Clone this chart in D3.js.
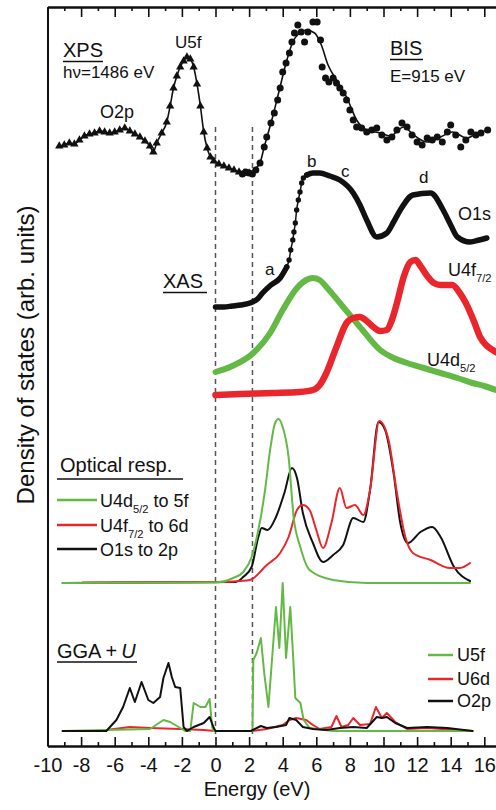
<!DOCTYPE html>
<html>
<head>
<meta charset="utf-8">
<script src="https://cdn.jsdelivr.net/npm/d3@7"></script>
<style>
  body { margin: 0; background: #fff; }
  svg text { font-family: "Liberation Sans", Arial, Helvetica, sans-serif; fill: #111; }
</style>
</head>
<body>
<div id="container"></div>
<script>
/*
    Spectra, all as [energy (eV), density (arb. units)]
    the vertical offsets of the stacked panels are part of the values
*/
var xpsData = [[-9.3,60.0],[-9.0,60.1],[-8.7,60.3],[-8.4,60.2],[-8.1,60.6],[-7.8,61.0],[-7.5,61.2],
    [-7.2,61.3],[-6.9,61.5],[-6.6,61.4],[-6.3,61.3],[-6.0,61.4],[-5.7,61.6],[-5.4,61.8],[-5.1,61.5],
    [-4.8,61.2],[-4.5,60.9],[-4.2,60.5],[-3.9,60.0],[-3.7,59.4],[-3.5,60.3],[-3.2,61.3],[-2.9,62.4],
    [-2.7,64.0],[-2.5,65.8],[-2.3,67.0],[-2.1,67.9],[-1.9,68.5],[-1.7,68.9],[-1.5,68.7],[-1.3,67.9],
    [-1.1,66.2],[-0.9,64.0],[-0.7,61.4],[-0.5,59.8],[-0.3,58.9],[-0.1,58.5],[0.2,58.2],[0.5,58.0],
    [0.8,57.8],[1.1,57.6],[1.4,57.4],[1.7,57.3],[2.0,57.3]];

var bisFit = [[1.6,57.3],[2.0,57.3],[2.4,57.8],[2.65,58.3],[2.9,59.9],[3.4,62.9],[3.8,65.6],[4.2,68.3],
    [4.6,70.4],[5.0,71.3],[5.4,71.6],[5.9,71.3],[6.3,70.1],[6.7,68.1],[7.2,66.6],[7.8,64.9],[8.4,62.6],
    [9.0,61.6],[9.8,61.3],[10.4,61.0],[11.2,61.9],[11.8,61.1],[12.6,60.4],[13.4,60.9],[14.1,61.4],
    [14.95,60.8],[15.6,61.3],[16.2,61.6]];

var bisPoints = [[1.6,57.2],[1.8,57.4],[2.0,57.3],[2.2,57.2],[2.4,57.6],[2.65,58.3],[2.9,59.9],
    [3.05,60.9],[3.3,62.3],[3.5,63.3],[3.7,64.6],[3.85,65.8],[4.0,67.4],[4.2,68.3],[4.4,69.3],
    [4.55,70.4],[4.7,71.3],[4.9,72.1],[5.1,71.4],[5.3,70.4],[5.5,71.4],[5.8,72.4],[6.05,72.4],
    [6.25,70.6],[6.35,67.9],[6.55,66.8],[6.75,66.4],[7.0,66.8],[7.2,66.3],[7.4,65.8],[7.6,65.3],
    [7.8,64.6],[8.0,63.6],[8.2,62.6],[8.4,61.9],[8.7,61.8],[9.0,61.4],[9.3,61.6],[9.6,61.8],
    [9.9,61.1],[10.2,60.6],[10.5,60.9],[10.8,61.6],[11.1,62.3],[11.4,61.9],[11.7,61.1],[12.0,60.4],
    [12.3,60.1],[12.6,60.8],[12.9,60.6],[13.2,60.9],[13.5,60.4],[13.8,61.4],[14.0,62.1],[14.3,61.1],
    [14.6,59.9],[14.9,60.6],[15.2,61.4],[15.5,61.1],[15.8,61.3],[16.2,61.6]];

var xasO1s = [[0,43.9],[0.5,43.9],[1.0,44.0],[1.5,44.1],[2.05,44.3],[2.5,44.7],[2.8,45.3],[3.3,46.1],
    [3.85,46.8],[4.24,47.9],[4.38,48.6],[4.48,49.6],[4.6,50.6],[4.67,51.4],[4.75,52.3],[4.83,53.6],
    [4.93,54.6],[5.03,55.4],[5.13,56.3],[5.23,56.8],[5.43,57.1],[5.8,57.3],[6.2,57.3],[6.8,57.0],
    [7.4,56.6],[8.2,55.3],[8.6,54.1],[9.0,52.6],[9.6,50.9],[10.2,51.3],[10.6,52.4],[11.0,53.6],
    [11.75,55.1],[12.8,55.3],[13.55,53.6],[14.0,52.1],[14.4,50.9],[15.15,50.4],[15.7,50.6],[16.15,50.8]];

var xasU4f = [[0,35.1],[1.5,35.2],[3.4,35.3],[5.0,35.4],[5.8,35.6],[6.2,36.1],[6.6,37.3],[7.2,39.9],
    [7.8,42.3],[8.2,42.8],[8.6,42.9],[9.0,42.5],[9.4,41.9],[9.8,41.5],[10.2,41.6],[10.5,42.6],
    [10.8,44.3],[11.2,46.9],[11.6,48.4],[11.9,48.6],[12.2,48.0],[12.6,47.0],[13.0,46.3],[13.4,46.1],
    [14.1,46.1],[14.5,45.4],[14.9,44.3],[15.4,42.4],[15.75,40.9],[16.1,40.1],[16.5,39.6],[17.0,39.1]];

var xasU4d = [[0,37.4],[1.0,38.0],[2.25,39.3],[3.25,41.3],[4.0,43.6],[4.85,45.8],[5.4,46.6],[5.8,46.8],
    [6.2,46.6],[6.6,45.9],[7.6,43.9],[8.6,41.9],[9.8,39.6],[10.6,38.8],[11.4,38.3],[12.4,37.8],
    [13.4,37.3],[14.4,36.8],[15.3,36.3],[16.0,36.0],[16.7,35.6]];

var optGreen = [[-9.1,16.3],[0,16.35],[1.05,16.8],[1.65,17.4],[2.15,18.9],[2.55,21.6],[2.95,25.6],
    [3.25,29.6],[3.55,32.3],[3.75,32.7],[4.0,31.9],[4.35,28.9],[4.65,22.9],[5.05,19.9],[5.6,17.6],
    [7.0,16.6],[9.0,16.3],[15.15,16.3]];

var optRed = [[-7.9,16.35],[0,16.4],[1.5,16.5],[2.05,16.6],[3.05,18.1],[3.85,19.3],[4.35,20.9],
    [4.85,23.6],[5.2,24.1],[5.6,23.6],[6.0,21.6],[6.4,19.8],[6.9,22.3],[7.4,25.8],[7.8,23.8],
    [8.3,24.1],[8.8,23.1],[9.2,25.6],[9.75,32.5],[10.3,30.6],[10.8,25.3],[11.3,20.9],[11.75,19.3],
    [12.8,18.6],[13.95,17.8],[14.55,17.8],[15.15,18.3]];

var optBlack = [[-9.1,16.3],[1.2,16.4],[1.65,16.9],[2.15,17.9],[2.55,20.9],[2.75,21.8],[3.1,21.6],
    [3.6,22.9],[4.1,25.3],[4.55,27.8],[4.85,26.8],[5.2,23.3],[5.8,20.3],[6.4,18.4],[7.0,19.1],
    [7.6,20.1],[8.2,22.8],[8.8,22.4],[9.2,25.6],[9.7,32.4],[10.1,31.6],[10.6,27.3],[11.0,22.3],
    [11.45,20.3],[12.2,21.4],[12.9,21.9],[13.4,20.9],[14.2,17.9],[15.15,16.5]];

var ggaU5f = [[-9.1,1.5],[-3.9,1.7],[-3.1,2.6],[-2.7,2.4],[-2.1,1.8],[-1.8,1.5],[-1.5,1.5],[-1.3,4.3],
    [-0.9,3.9],[-0.6,3.9],[-0.35,4.7],[-0.2,1.9],[-0.1,1.5],[2.2,1.5],[2.25,8.6],[2.45,9.3],[2.7,10.8],
    [2.9,7.3],[3.15,3.9],[3.6,13.9],[3.8,9.8],[4.0,16.3],[4.2,8.8],[4.45,13.9],[4.6,9.6],[4.75,4.8],
    [5.05,4.3],[5.25,2.6],[5.6,1.8],[7.0,1.5],[15.3,1.5]];

var ggaU6d = [[-6.5,1.6],[-5.1,1.9],[-3.9,1.8],[-2.1,1.7],[-0.7,1.6],[0,1.5],[2.2,1.5],[3.05,1.7],
    [4.0,2.1],[4.4,2.6],[4.8,2.8],[5.4,2.6],[5.8,2.1],[6.2,1.7],[6.9,1.9],[7.2,3.0],[7.5,1.9],
    [7.9,2.1],[8.2,2.8],[8.6,2.1],[9.2,2.2],[9.55,3.9],[9.9,2.8],[10.2,3.3],[10.7,2.4],[11.4,1.7],
    [12.6,1.8],[15.3,1.5]];

var ggaO2p = [[-9.1,1.5],[-6.5,1.5],[-5.9,2.6],[-5.5,3.9],[-5.1,5.8],[-4.8,4.4],[-4.4,6.4],[-4.0,4.6],
    [-3.7,4.3],[-3.3,4.9],[-3.1,6.8],[-2.8,8.3],[-2.6,6.9],[-2.4,5.9],[-2.1,5.8],[-1.9,1.9],[-1.7,1.5],
    [-1.3,1.9],[-0.7,2.3],[-0.35,2.9],[-0.1,1.8],[0,1.5],[2.1,1.5],[2.7,2.0],[3.05,1.8],[3.6,1.9],
    [4.2,2.1],[4.4,2.8],[4.8,2.6],[5.2,1.9],[5.8,1.7],[6.6,1.6],[7.4,1.8],[8.2,1.9],[9.0,1.8],
    [9.6,2.9],[9.9,2.8],[10.2,2.9],[10.7,2.3],[11.4,1.8],[12.6,1.9],[13.8,1.8],[15.3,1.5]];

/* energy of the two dashed guide lines and axis ticks */
var guideEnergies = [0, 2.2];
var majorTicks = [-10, -8, -6, -4, -2, 0, 2, 4, 6, 8, 10, 12, 14, 16];
var minorTicks = [-9, -7, -5, -3, -1, 1, 3, 5, 7, 9, 11, 13, 15];

var GREEN = "#64b946";
var RED = "#e8262b";
var BLACK = "#111111";

var width = 496, height = 810;

var svg = d3.select("#container").append("svg")
    .attr("width", width)
    .attr("height", height);

var x = d3.scaleLinear().domain([-10, 17]).range([47.5, 501.1]);
var y = d3.scaleLinear().domain([0, 73.9]).range([746, 7]);

var smooth = d3.line()
    .x(function (d) { return x(d[0]); })
    .y(function (d) { return y(d[1]); })
    .curve(d3.curveMonotoneX);

var sharp = d3.line()
    .x(function (d) { return x(d[0]); })
    .y(function (d) { return y(d[1]); });

function drawPath(data, gen, color, w) {
    return svg.append("path")
        .datum(data)
        .attr("d", gen)
        .attr("fill", "none")
        .attr("stroke", color)
        .attr("stroke-width", w)
        .attr("stroke-linejoin", "round")
        .attr("stroke-linecap", "round");
}

/*
    Dashed guide lines
*/
svg.selectAll(".guide")
    .data(guideEnergies)
    .enter().append("line")
    .attr("class", "guide")
    .attr("x1", function (d) { return x(d); })
    .attr("x2", function (d) { return x(d); })
    .attr("y1", y(61.9))
    .attr("y2", y(1.2))
    .attr("stroke", "#555")
    .attr("stroke-width", 1.5)
    .attr("stroke-dasharray", "5,4");

/*
    XPS + BIS
*/
drawPath(xpsData, smooth, BLACK, 1.6);
svg.selectAll(".tri")
    .data(xpsData)
    .enter().append("path")
    .attr("class", "tri")
    .attr("d", d3.symbol(d3.symbolTriangle, 30))
    .attr("transform", function (d) { return "translate(" + x(d[0]) + "," + y(d[1]) + ")"; })
    .attr("fill", BLACK);

drawPath(bisFit, smooth, BLACK, 1.6);
svg.selectAll(".bis")
    .data(bisPoints)
    .enter().append("circle")
    .attr("class", "bis")
    .attr("cx", function (d) { return x(d[0]); })
    .attr("cy", function (d) { return y(d[1]); })
    .attr("r", 3.5)
    .attr("fill", BLACK);

/*
    XAS
*/
drawPath(xasU4d, smooth, GREEN, 6);
drawPath(xasU4f, smooth, RED, 6.5);

drawPath(xasO1s, smooth, BLACK, 1.5);
var thick = d3.line()
    .defined(function (d) { return d[0] <= 4.25 || d[0] >= 5.4; })
    .x(function (d) { return x(d[0]); })
    .y(function (d) { return y(d[1]); })
    .curve(d3.curveMonotoneX);
drawPath(xasO1s, thick, BLACK, 5.5);
svg.selectAll(".o1s")
    .data(xasO1s.filter(function (d) { return d[0] > 4.2 && d[0] < 5.45; }))
    .enter().append("circle")
    .attr("class", "o1s")
    .attr("cx", function (d) { return x(d[0]); })
    .attr("cy", function (d) { return y(d[1]); })
    .attr("r", 2.7)
    .attr("fill", BLACK);

/*
    Optical response
*/
drawPath(optBlack, smooth, BLACK, 2);
drawPath(optRed, smooth, RED, 2);
drawPath(optGreen, smooth, GREEN, 2);

/*
    GGA+U
*/
drawPath(ggaU6d, sharp, RED, 2);
drawPath(ggaU5f, sharp, GREEN, 2);
drawPath(ggaO2p, sharp, BLACK, 2);

/*
    Axes
*/
var axisBottom = svg.append("g")
    .attr("transform", "translate(0," + y(0) + ")")
    .call(d3.axisBottom(x).tickValues(majorTicks).tickSize(-9).tickSizeOuter(0)
        .tickPadding(12).tickFormat(function (d) { return String(d); }));
svg.append("g")
    .attr("transform", "translate(0," + y(0) + ")")
    .call(d3.axisBottom(x).tickValues(minorTicks).tickSize(-4).tickSizeOuter(0).tickFormat(""));
svg.append("g")
    .attr("transform", "translate(0," + y(73.9) + ")")
    .call(d3.axisTop(x).tickValues(majorTicks).tickSize(-10).tickSizeOuter(0).tickFormat(""));
svg.append("g")
    .attr("transform", "translate(0," + y(73.9) + ")")
    .call(d3.axisTop(x).tickValues(minorTicks).tickSize(-4).tickSizeOuter(0).tickFormat(""));
svg.append("g")
    .attr("transform", "translate(" + x(-10) + ",0)")
    .call(d3.axisLeft(y).tickValues([]).tickSizeOuter(0));

svg.selectAll(".domain").attr("stroke", BLACK).attr("stroke-width", 2);
svg.selectAll(".tick line").attr("stroke", BLACK).attr("stroke-width", 1.6);
axisBottom.selectAll(".tick text")
    .attr("font-size", 20)
    .attr("font-family", "Liberation Sans, Arial, sans-serif")
    .attr("fill", BLACK);

svg.append("text")
    .attr("x", 257)
    .attr("y", 796)
    .attr("text-anchor", "middle")
    .attr("font-size", 20)
    .text("Energy (eV)");

svg.append("text")
    .attr("transform", "translate(34,355) rotate(-90)")
    .attr("text-anchor", "middle")
    .attr("font-size", 24)
    .text("Density of states (arb. units)");

/*
    Annotations
*/
function label(tx, ty, size, txt) {
    return svg.append("text").attr("x", tx).attr("y", ty).attr("font-size", size).text(txt);
}
function underline(x1, x2, uy, w) {
    svg.append("line").attr("x1", x1).attr("x2", x2).attr("y1", uy).attr("y2", uy)
        .attr("stroke", BLACK).attr("stroke-width", w || 1.3);
}
function subLabel(tx, ty, size, main, sub, rest) {
    var t = svg.append("text").attr("x", tx).attr("y", ty).attr("font-size", size);
    t.append("tspan").text(main);
    t.append("tspan").attr("font-size", size * 0.62).attr("dy", 6).text(sub);
    if (rest) t.append("tspan").attr("dy", -6).text(rest);
    return t;
}

label(63, 57, 20, "XPS");
underline(63, 103, 61.5);
label(63, 78, 17, "h\u03bd=1486 eV");
label(175, 48, 17, "U5f");
label(100, 118, 18, "O2p");
label(390, 55, 20, "BIS");
underline(390, 423, 59.5);
label(390, 82, 17, "E=915 eV");

label(265, 275, 17, "a");
label(307, 167, 17, "b");
label(341, 177, 17, "c");
label(419, 183, 17, "d");
label(458, 220, 18, "O1s");
subLabel(448, 276, 18, "U4f", "7/2");
subLabel(427, 366, 18, "U4d", "5/2");
label(163, 288, 20, "XAS");
underline(163, 207, 292.5);

label(60, 472, 20, "Optical resp.");
underline(57, 183, 479, 1.5);

var optLegend = [
    { color: GREEN, main: "U4d", sub: "5/2", rest: " to 5f" },
    { color: RED, main: "U4f", sub: "7/2", rest: " to 6d" },
    { color: BLACK, main: "O1s to 2p", sub: "", rest: "" }
];
var optY = [500, 525, 549];
optLegend.forEach(function (d, i) {
    svg.append("line").attr("x1", 57).attr("x2", 97).attr("y1", optY[i]).attr("y2", optY[i])
        .attr("stroke", d.color).attr("stroke-width", 2.5);
    subLabel(100, optY[i] + 7, 18, d.main, d.sub, d.rest);
});

var gga = svg.append("text").attr("x", 57).attr("y", 658).attr("font-size", 20);
gga.append("tspan").text("GGA\u2009+\u2009");
gga.append("tspan").attr("font-style", "italic").text("U");
underline(57, 137, 662);

var ggaLegend = [
    { color: GREEN, name: "U5f" },
    { color: RED, name: "U6d" },
    { color: BLACK, name: "O2p" }
];
var ggaY = [655, 679, 701];
ggaLegend.forEach(function (d, i) {
    svg.append("line").attr("x1", 428).attr("x2", 453).attr("y1", ggaY[i]).attr("y2", ggaY[i])
        .attr("stroke", d.color).attr("stroke-width", 2.5);
    label(457, ggaY[i] + 6, 18, d.name);
});
</script>
</body>
</html>
